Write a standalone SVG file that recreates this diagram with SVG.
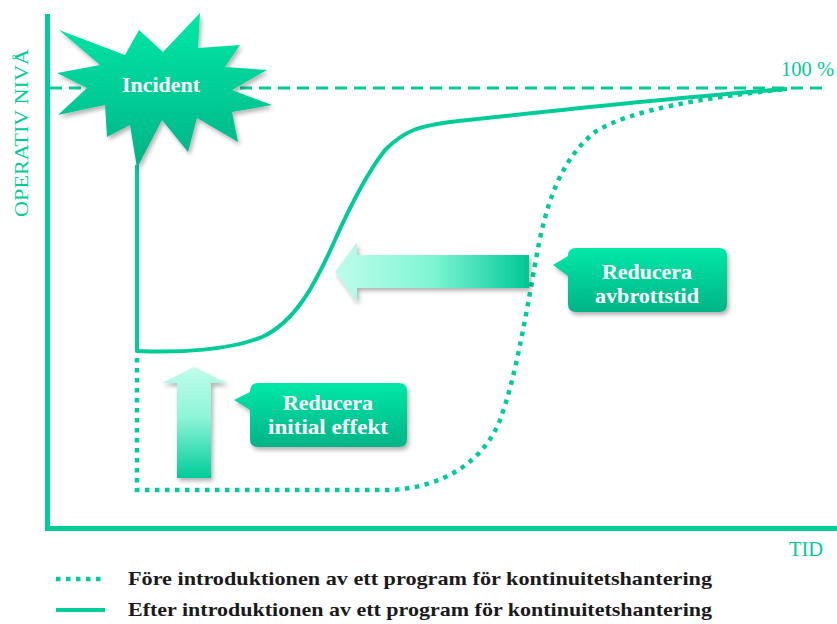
<svg xmlns="http://www.w3.org/2000/svg" width="837" height="624" viewBox="0 0 837 624">
<defs>
<linearGradient id="gBox" x1="0" y1="0" x2="0" y2="1">
<stop offset="0" stop-color="#00E8A8"/><stop offset="1" stop-color="#00B386"/>
</linearGradient>
<linearGradient id="gUp" x1="0" y1="0" x2="0" y2="1">
<stop offset="0" stop-color="#BFFCEB"/><stop offset="0.45" stop-color="#8EF5D8"/><stop offset="1" stop-color="#00CC99"/>
</linearGradient>
<linearGradient id="gLeft" x1="0" y1="0" x2="1" y2="0">
<stop offset="0" stop-color="#BFFCEB"/><stop offset="0.5" stop-color="#80F5D4"/><stop offset="1" stop-color="#00C896"/>
</linearGradient>
<filter id="sh" x="-20%" y="-20%" width="150%" height="150%">
<feDropShadow dx="2" dy="3" stdDeviation="2" flood-color="#000" flood-opacity="0.3"/>
</filter>
<style>
.ax{stroke:#00CC99;stroke-width:5;fill:none}
.solid{stroke:#00CC99;stroke-width:4;fill:none;stroke-linejoin:round}
.dot{stroke:#00CC99;stroke-width:4.5;fill:none;stroke-dasharray:4.5 5.5}
.dash{stroke:#00CC99;stroke-width:3;fill:none;stroke-dasharray:12 7}
.lbl{font-family:"Liberation Serif","DejaVu Serif",serif;fill:#00CC99}
.wt{font-family:"Liberation Serif","DejaVu Serif",serif;font-weight:bold;fill:#FFFFFF;font-size:21px;text-anchor:middle}
.lg{font-family:"Liberation Serif","DejaVu Serif",serif;font-weight:bold;fill:#1A1A1A;font-size:19px}
</style>
</defs>
<rect width="837" height="624" fill="#FFFFFF"/>

<g id="axes">
<path class="ax" d="M47.5,14 V528.5 H837"/>
<text class="lbl" font-size="19" transform="translate(28,217) rotate(-90)" textLength="168" lengthAdjust="spacingAndGlyphs">OPERATIV NIVÅ</text>
<text class="lbl" font-size="20" x="789" y="556" textLength="34" lengthAdjust="spacingAndGlyphs">TID</text>
</g>

<g id="target">
<path class="dash" d="M50,88 H826"/>
<text class="lbl" font-size="20" x="781" y="76" textLength="53" lengthAdjust="spacingAndGlyphs">100 %</text>
</g>

<g id="connectors">
<path class="dot" d="M137,358 V490 H385 C430,490 480,470 500,420 C515,380 525,320 535,265 C545,205 560,160 595,132 C630,110 700,98 787,89"/>
<path class="solid" d="M137,165 V351 C180,353 230,350 262,337 C295,322 315,285 335,240 C352,202 368,172 385,150 C405,130 420,126 450,122 C560,110 680,97 787,89"/>
</g>

<g id="incident">
<polygon filter="url(#sh)" fill="url(#gBox)" points="59,30 125,55 139,30 163,52 200,13 198,48 240,45 225,67 267,70 232,90 272,105 232,112 238,142 197,118 188,152 162,120 137,168 130,125 107,137 105,105 58,115 87,88 57,73 100,65"/>
<text class="wt" x="161" y="92" textLength="78" lengthAdjust="spacingAndGlyphs">Incident</text>
</g>

<g id="arrow-up">
<polygon filter="url(#sh)" fill="url(#gUp)" points="194,367 227,383 211,383 211,478 177,478 177,383 162,383"/>
</g>

<g id="arrow-left">
<polygon filter="url(#sh)" fill="url(#gLeft)" points="335,272 357,242 357,255 529,255 529,288 357,288 357,302"/>
</g>

<g id="callout-avbrott">
<path filter="url(#sh)" fill="url(#gBox)" d="M576,248 H719 Q727,248 727,256 V304 Q727,312 719,312 H576 Q568,312 568,304 V276 L553,265 L568,256 Q568,248 576,248 Z"/>
<text class="wt" x="647" y="279" textLength="90" lengthAdjust="spacingAndGlyphs">Reducera</text>
<text class="wt" x="647" y="303" textLength="104" lengthAdjust="spacingAndGlyphs">avbrottstid</text>
</g>

<g id="callout-initial">
<path filter="url(#sh)" fill="url(#gBox)" d="M258,383 H399 Q407,383 407,391 V439 Q407,447 399,447 H258 Q250,447 250,439 V410 L234,400 L250,392 Q250,383 258,383 Z"/>
<text class="wt" x="328" y="410" textLength="90" lengthAdjust="spacingAndGlyphs">Reducera</text>
<text class="wt" x="328" y="434" textLength="120" lengthAdjust="spacingAndGlyphs">initial effekt</text>
</g>

<g id="legend">
<path class="dot" d="M56,579 H106" stroke-width="5"/>
<text class="lg" x="128" y="585" textLength="584" lengthAdjust="spacingAndGlyphs">Före introduktionen av ett program för kontinuitetshantering</text>
<path class="solid" d="M56,610 H105" stroke-width="5"/>
<text class="lg" x="128" y="616" textLength="584" lengthAdjust="spacingAndGlyphs">Efter introduktionen av ett program för kontinuitetshantering</text>
</g>
</svg>
